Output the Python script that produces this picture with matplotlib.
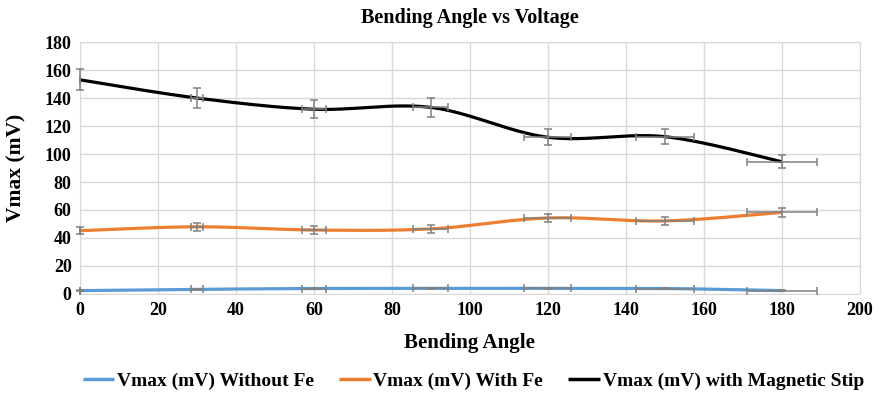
import numpy as np
import matplotlib
matplotlib.use("Agg")
import matplotlib.pyplot as plt

# data
angles = [0, 30, 60, 90, 120, 150, 180]
v_without_fe = [2.4, 3.3, 3.9, 4.0, 4.0, 3.9, 2.4]
v_with_fe = [45.2, 48.0, 45.7, 46.5, 54.3, 52.2, 58.3]
v_magnetic = [153.0, 140.0, 132.0, 133.3, 112.0, 112.4, 94.5]
err_without_fe = [0.3, 0.3, 0.3, 0.3, 0.3, 0.3, 0.3]
err_with_fe = [2.3, 2.9, 2.8, 2.6, 3.0, 3.0, 3.0]
err_magnetic = [7.4, 7.0, 6.5, 6.5, 5.6, 5.6, 4.8]
angle_err_pct = 5  # x error bars, percent of value

labels = ["Vmax (mV) Without Fe", "Vmax (mV) With Fe", "Vmax (mV) with Magnetic Stip"]
colors = ["#5b9bd5", "#ed7d31", "#000000"]


def smooth(x, y, n=40):
    # excel-like smoothed line (bezier through the points)
    x = np.asarray(x, float)
    y = np.asarray(y, float)
    px = np.concatenate([[x[0]], x, [x[-1]]])
    py = np.concatenate([[y[0]], y, [y[-1]]])
    xs, ys = [], []
    t = np.linspace(0, 1, n)
    for i in range(1, len(px) - 2):
        p0 = np.array([px[i], py[i]])
        p3 = np.array([px[i + 1], py[i + 1]])
        p1 = p0 + (np.array([px[i + 1], py[i + 1]]) - np.array([px[i - 1], py[i - 1]])) / 6
        p2 = p3 - (np.array([px[i + 2], py[i + 2]]) - np.array([px[i], py[i]])) / 6
        b = ((1 - t) ** 3)[:, None] * p0 + (3 * (1 - t) ** 2 * t)[:, None] * p1 \
            + (3 * (1 - t) * t ** 2)[:, None] * p2 + (t ** 3)[:, None] * p3
        xs.extend(b[:, 0])
        ys.extend(b[:, 1])
    return xs, ys


plt.rcParams["font.family"] = ["Liberation Serif", "DejaVu Serif"]
plt.rcParams["font.weight"] = "bold"

fig = plt.figure(figsize=(8.8, 3.93), dpi=100)
ax = fig.add_axes([0.0909, 0.252, 0.886, 0.641])

xerr = [a * angle_err_pct / 100 for a in angles]
series = [(v_without_fe, err_without_fe), (v_with_fe, err_with_fe), (v_magnetic, err_magnetic)]
for (vals, errs), lab, col in zip(series, labels, colors):
    sx, sy = smooth(angles, vals)
    ax.plot(sx, sy, color=col, lw=2.3, label=lab, zorder=3, solid_capstyle="butt")
    ax.errorbar(angles, vals, xerr=xerr, yerr=errs, fmt="none", ecolor="#808080",
                elinewidth=1.1, capsize=3.2, capthick=1.1, zorder=4, clip_on=False)

ax.set_xlim(0, 200)
ax.set_ylim(0, 180)
ax.set_xticks(range(0, 201, 20))
ax.set_yticks(range(0, 181, 20))
ax.grid(True, color="#d9d9d9", lw=1)
ax.set_axisbelow(True)
for s in ax.spines.values():
    s.set_color("#d9d9d9")
ax.tick_params(length=0, labelsize=13, pad=6)
for lbl in ax.get_xticklabels() + ax.get_yticklabels():
    lbl.set_fontweight("bold")

ax.set_title("Bending Angle vs Voltage", fontsize=14.5, fontweight="bold", pad=14)
ax.set_xlabel("Bending Angle", fontsize=15, fontweight="bold", labelpad=10)
ax.set_ylabel("Vmax (mV)", fontsize=15.5, fontweight="bold", labelpad=13)

leg = fig.legend(loc="center", bbox_to_anchor=(0.538, 0.03), ncol=3, frameon=False,
                 prop={"size": 14, "weight": "bold"}, handlelength=1.6, columnspacing=1.3,
                 handletextpad=0.15)
for h in leg.get_lines():
    h.set_linewidth(2.5)

fig.savefig("out.png", dpi=100)
